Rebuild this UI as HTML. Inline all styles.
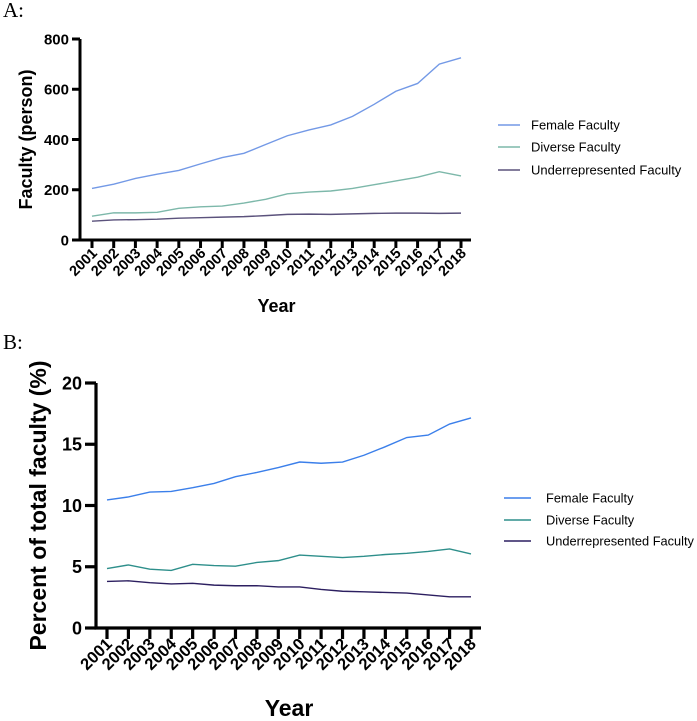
<!DOCTYPE html>
<html><head><meta charset="utf-8"><style>
html,body{margin:0;padding:0;background:#fff;}
svg{display:block;}
text{font-family:"Liberation Sans",Arial,sans-serif;}
</style></head><body>
<svg id="chart" width="697" height="721" viewBox="0 0 697 721" xmlns="http://www.w3.org/2000/svg">
<text x="3" y="17" font-size="21" style="font-family:'Liberation Serif',serif">A:</text>
<text x="3" y="349" font-size="21" style="font-family:'Liberation Serif',serif">B:</text>
</svg>
<script>
const years = [2001,2002,2003,2004,2005,2006,2007,2008,2009,2010,2011,2012,2013,2014,2015,2016,2017,2018];
const seriesNames = ["Female Faculty","Diverse Faculty","Underrepresented Faculty"];
const aFemale = [205,222,245,262,277,303,328,345,380,415,438,458,492,540,592,623,700,725];
const aDiverse = [95,108,108,110,126,132,135,147,162,184,191,195,205,220,235,250,272,255];
const aUnder = [75,80,81,83,87,89,91,93,97,102,103,102,104,106,107,107,106,107];
const aTicks = [0,200,400,600,800];
const bFemale = [10.45,10.7,11.1,11.15,11.45,11.8,12.35,12.7,13.1,13.55,13.45,13.55,14.1,14.8,15.55,15.75,16.65,17.15];
const bDiverse = [4.85,5.15,4.8,4.7,5.2,5.1,5.05,5.35,5.5,5.95,5.85,5.75,5.85,6.0,6.1,6.25,6.45,6.05];
const bUnder = [3.8,3.85,3.7,3.6,3.65,3.5,3.45,3.45,3.35,3.35,3.15,3.0,2.95,2.9,2.85,2.7,2.55,2.55];
const bTicks = [0,5,10,15,20];

const svg = document.getElementById('chart');
const NS = 'http://www.w3.org/2000/svg';
function mk(tag, attrs, parent){const e=document.createElementNS(NS,tag);for(const k in attrs)e.setAttribute(k,attrs[k]);(parent||svg).appendChild(e);return e;}

function panel(cfg){
  const g = mk('g',{});
  
  
  const ymax = cfg.ticks[cfg.ticks.length-1];
  const y = v => cfg.y0 - v/ymax*(cfg.y0-cfg.y1);
  const x = i => cfg.x0 + i*(cfg.x1-cfg.x0)/(years.length-1);
  const ax = mk('path',{d:`M${cfg.ax} ${cfg.y1} V${cfg.y0} H${cfg.axEnd}`,fill:'none',stroke:'#000','stroke-width':cfg.sw},g);
  
  
  cfg.ticks.forEach(t=>{
    mk('line',{x1:cfg.ax-cfg.tl,x2:cfg.ax,y1:y(t),y2:y(t),stroke:'#000','stroke-width':cfg.sw},g);
    const tx = mk('text',{x:cfg.ax-cfg.tl-3,y:y(t)+cfg.fs*0.36,'text-anchor':'end','font-size':cfg.fs,'font-weight':'bold'},g);
    tx.textContent=t;
    
    
  });
  years.forEach((yr,i)=>{
    mk('line',{x1:x(i),x2:x(i),y1:cfg.y0,y2:cfg.y0+cfg.tl,stroke:'#000','stroke-width':cfg.sw},g);
    const tx = mk('text',{x:0,y:0,'text-anchor':'end','font-size':cfg.xfs,'font-weight':'bold',transform:`translate(${x(i)+6},${cfg.y0+cfg.tl+6}) rotate(-45)`},g);
    tx.textContent=yr;
    
    
  });
  const yt = mk('text',{x:0,y:0,'text-anchor':'middle','font-size':cfg.tfs,'font-weight':'bold',transform:`translate(${cfg.ytx},${(cfg.y0+cfg.y1)/2}) rotate(-90)`},g);
  yt.textContent=cfg.ytitle;
  
  
  const xt = mk('text',{x:(cfg.x0+cfg.x1)/2,y:cfg.xty,'text-anchor':'middle','font-size':cfg.tfs,'font-weight':'bold'},g);
  xt.textContent='Year';
  
  
  cfg.series.forEach((s,k)=>{
    const p = mk('polyline',{points:s.map((v,i)=>x(i)+','+y(v)).join(' '),fill:'none',stroke:cfg.colors[k],'stroke-width':1.4},g);
    
    
    const ly = cfg.leg.ys[k];
    const ll = mk('line',{x1:cfg.leg.x0,x2:cfg.leg.x1,y1:ly,y2:ly,stroke:cfg.colors[k],'stroke-width':1.5},g);
    
    
    const lt = mk('text',{x:cfg.leg.tx,y:ly+cfg.leg.fs*0.36,'font-size':cfg.leg.fs},g);
    lt.textContent=seriesNames[k];
    
    
  });
}

panel({id:'panel-a',ax:80,axEnd:471,x0:92,x1:461,y0:240,y1:39,sw:3,tl:8,fs:15,xfs:14.5,tfs:18,ticks:aTicks,
  ytitle:'Faculty (person)',ytx:32,xty:312,series:[aFemale,aDiverse,aUnder],
  colors:['#7399e6','#7db8aa','#5b527c'],leg:{x0:498,x1:520,tx:531,ys:[125,147,170],fs:13}});
panel({id:'panel-b',ax:96,axEnd:481,x0:107,x1:471,y0:628,y1:383,sw:3.2,tl:11,fs:18,xfs:16.5,tfs:23,ticks:bTicks,
  ytitle:'Percent of total faculty (%)',ytx:46,xty:716,series:[bFemale,bDiverse,bUnder],
  colors:['#3b7fea','#2e8f8b','#2c1f60'],leg:{x0:504,x1:531,tx:546,ys:[498,520,541],fs:12.8}});
</script>
</body></html>
